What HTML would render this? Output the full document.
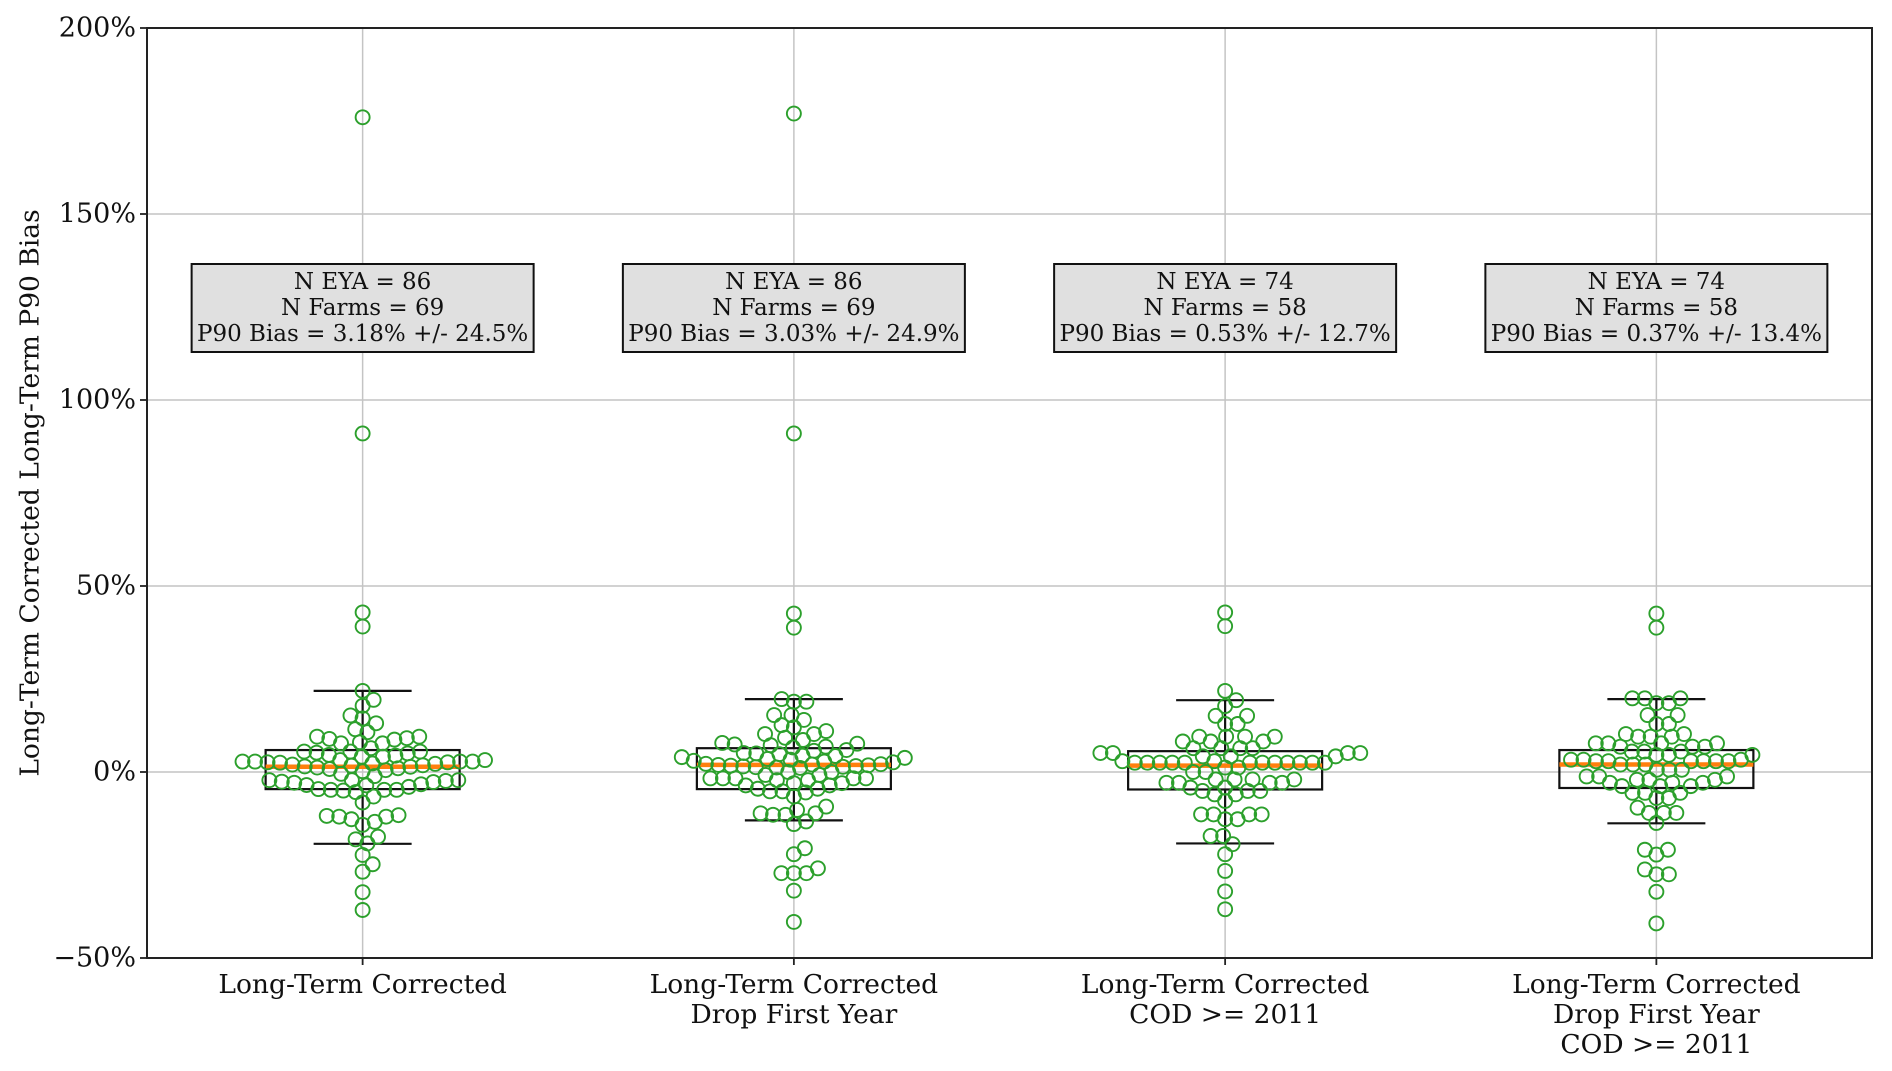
<!DOCTYPE html>
<html><head><meta charset="utf-8"><style>
html,body{margin:0;padding:0;background:#fff;}
svg{display:block;font-family:"DejaVu Serif","Liberation Serif",serif;}
</style></head><body>
<svg id="chart" width="1892" height="1071" viewBox="0 0 1892 1071" xmlns="http://www.w3.org/2000/svg">
<g id="grid"></g>
<g id="marks"></g>
<rect x="147" y="28" width="1725" height="930" fill="none" stroke="#222" stroke-width="2"/>
<g id="axes"></g>
<text x="30" y="493" transform="rotate(-90 30 493)" text-anchor="middle" dominant-baseline="central" font-size="26.5" fill="#111">Long-Term Corrected Long-Term P90 Bias</text>
</svg>
<script>
const categories = [["Long-Term Corrected"],["Long-Term Corrected","Drop First Year"],["Long-Term Corrected","COD >= 2011"],["Long-Term Corrected","Drop First Year","COD >= 2011"]];
const yTicks = [-50,0,50,100,150,200];
const yTickLabels = ["\u221250%","0%","50%","100%","150%","200%"];
const nEya = [86,86,74,74];
const nFarms = [69,69,58,58];
const biasMean = ["3.18%","3.03%","0.53%","0.37%"];
const biasStd = ["24.5%","24.9%","12.7%","13.4%"];
const q1 = [-4.6,-4.6,-4.7,-4.3];
const median = [1.4,1.9,1.7,2.0];
const q3 = [5.9,6.4,5.6,5.9];
const whiskerLo = [-19.3,-13.0,-19.2,-13.8];
const whiskerHi = [21.8,19.6,19.3,19.6];
const points1 = [176,91,42.9,39.1,21.8,19.4,17.8,15.2,14.4,13.1,11.5,10.7,9.5,9.5,9.1,8.9,8.7,8.0,7.7,7.7,6.4,5.5,5.5,5.5,5.2,4.6,4.1,3.2,2.8,2.8,2.6,2.5,2.2,1.7,1.4,1.0,0.5,0.8,1.2,1.5,1.8,2.0,2.3,2.6,2.8,2.8,3.2,4.1,4.4,5.0,-1.1,-2.2,-2.4,-2.7,-3.3,-3.6,-4.8,-5.0,-5.4,-4.8,-4.8,-4.6,-3.5,-2.9,-2.6,-2.2,-2.2,-6.6,-8.2,-11.6,-12.0,-12.7,-12.0,-11.8,-13.4,-14.2,-17.4,-18.1,-19.2,-22.3,-24.8,-26.8,-32.3,-37.1,-4.0,-0.5,0.2];
const points2 = [177,91,42.6,38.8,19.6,18.9,18.9,15.3,15.3,14,12.6,12,11,10.2,10.2,9.2,8.6,7.8,7.6,7.4,7.2,6.8,6.6,5.9,5.7,5.1,5.0,4.8,4.4,4.3,4.0,3.8,3.5,3.3,3.0,2.8,2.6,2.2,2.1,2.0,1.9,1.8,1.7,1.6,1.5,1.4,1.3,1.2,1.1,0,0,-0.8,-0.8,-1.7,-1.7,-1.7,-1.7,-1.7,-2.2,-2.2,-3.0,-3.0,-3.6,-3.6,-4.5,-4.5,-5.2,-5.2,-5.5,-6.6,-9.3,-10.2,-11.1,-11.1,-11.5,-11.5,-13.3,-14.0,-20.5,-22.1,-25.9,-27.2,-27.2,-27.2,-31.9,-40.3];
const points3 = [42.9,39.2,21.8,19.3,17.7,15.1,15.1,12.9,12.9,9.5,9.5,9.5,9.5,8.2,8.2,8.2,6.4,6.4,6.4,6.4,5.1,5.1,5.1,5.1,4.2,4.2,4.2,2.9,2.9,2.5,2.5,2.5,2.5,2.5,2.5,2.5,2.5,2.5,2.5,2.5,2.5,1.2,1.2,0,0,-2.0,-2.0,-2.0,-2.0,-2.9,-2.9,-2.9,-2.9,-4.2,-4.2,-5.1,-5.1,-5.1,-6.0,-6.0,-7.8,-11.4,-11.4,-11.4,-11.4,-12.7,-12.7,-17.2,-17.2,-19.4,-22.1,-26.6,-32.1,-36.9];
const points4 = [42.6,38.8,19.8,19.8,19.8,18.5,18.5,15.3,15.3,12.9,12.9,10.2,10.2,9.5,9.5,9.5,7.7,7.7,7.7,7.7,6.8,6.8,6.8,5.5,5.5,5.5,4.6,4.6,4.6,3.3,3.3,3.3,2.9,2.9,2.9,2.9,2.9,2.9,2.0,2.0,2.0,0.6,0.6,0.6,-1.2,-1.2,-1.2,-2.1,-2.1,-2.1,-2.9,-2.9,-2.9,-3.8,-3.8,-3.8,-5.6,-5.6,-5.6,-7.0,-7.0,-9.6,-11.0,-11.0,-11.0,-13.7,-20.9,-20.9,-22.2,-26.2,-27.5,-27.5,-32.2,-40.7];
const allPoints = [points1,points2,points3,points4];

const NS = "http://www.w3.org/2000/svg";
const L = 147, R = 1872, T = 28, B = 958;
const yMin = -50, yMax = 200;
function y(v){ return B - (v - yMin) / (yMax - yMin) * (B - T); }
function x(i){ return L + (i + 0.5) * (R - L) / categories.length; }
function mk(tag, attrs, parent){ const e = document.createElementNS(NS, tag); for (const k in attrs) e.setAttribute(k, attrs[k]); parent.appendChild(e); return e; }
const grid = document.getElementById('grid'), marks = document.getElementById('marks'), axes = document.getElementById('axes');

yTicks.forEach((t, i) => {
  const gl = mk('line', {x1:L, x2:R, y1:y(t), y2:y(t), stroke:'#c4c4c4', 'stroke-width':1.5}, grid);
  
  
  const tk = mk('line', {x1:L-7, x2:L, y1:y(t), y2:y(t), stroke:'#222', 'stroke-width':1.8}, axes);
  
  
  const tl = mk('text', {x:L-11, y:y(t), 'text-anchor':'end', 'dominant-baseline':'central', 'font-size':27, fill:'#111'}, axes);
  tl.textContent = yTickLabels[i];
  
  
});

const rad = 7, dia = 12.5;
function swarm(vals){
  const ord = vals.map((v, i) => ({v, py:y(v)})).sort((a, b) => a.v - b.v);
  const placed = [];
  ord.forEach(p => {
    const near = placed.filter(q => Math.abs(q.py - p.py) < dia);
    const cands = [0];
    near.forEach(q => { const dx = Math.sqrt(dia*dia - (q.py-p.py)*(q.py-p.py)); cands.push(q.dx + dx, q.dx - dx); });
    cands.sort((a, b) => Math.abs(a) - Math.abs(b));
    let best = 0;
    for (const c of cands){
      if (near.every(q => (q.dx-c)*(q.dx-c) + (q.py-p.py)*(q.py-p.py) >= dia*dia - 0.01)){ best = c; break; }
    }
    p.dx = best; placed.push(p);
  });
  return placed;
}

categories.forEach((cat, i) => {
  const cx = x(i);
  const vg = mk('line', {x1:cx, x2:cx, y1:T, y2:B, stroke:'#c4c4c4', 'stroke-width':1.5}, grid);
  
  
  const g = mk('g', {}, marks);
  
  
  const hw = 97, cw = 49;
  const w1 = mk('line', {x1:cx, x2:cx, y1:y(q3[i]), y2:y(whiskerHi[i]), stroke:'#111', 'stroke-width':2.2}, g);
  
  
  const w2 = mk('line', {x1:cx, x2:cx, y1:y(q1[i]), y2:y(whiskerLo[i]), stroke:'#111', 'stroke-width':2.2}, g);
  
  
  const c1 = mk('line', {x1:cx-cw, x2:cx+cw, y1:y(whiskerHi[i]), y2:y(whiskerHi[i]), stroke:'#111', 'stroke-width':2.2}, g);
  
  
  const c2 = mk('line', {x1:cx-cw, x2:cx+cw, y1:y(whiskerLo[i]), y2:y(whiskerLo[i]), stroke:'#111', 'stroke-width':2.2}, g);
  
  
  const bx = mk('rect', {x:cx-hw, y:y(q3[i]), width:2*hw, height:y(q1[i])-y(q3[i]), fill:'none', stroke:'#111', 'stroke-width':2.2}, g);
  
  
  const md = mk('line', {x1:cx-hw, x2:cx+hw, y1:y(median[i]), y2:y(median[i]), stroke:'#ff7f0e', 'stroke-width':4.5}, g);
  
  
  swarm(allPoints[i]).forEach(p => {
    const c = mk('circle', {cx:cx+p.dx, cy:p.py, r:rad, fill:'none', stroke:'#2ca02c', 'stroke-width':1.9}, g);
    
    
  });
  const tk = mk('line', {x1:cx, x2:cx, y1:B, y2:B+7, stroke:'#222', 'stroke-width':1.8}, axes);
  
  
  const xl = mk('text', {x:cx, 'text-anchor':'middle', 'font-size':26.5, fill:'#111'}, axes);
  
  
  cat.forEach((line, j) => { const ts = mk('tspan', {x:cx, y:993 + j*30}, xl); ts.textContent = line; });
  const ag = mk('g', {}, axes);
  
  
  mk('rect', {x:cx-171, y:264, width:342, height:88, fill:'#e0e0e0', stroke:'#111', 'stroke-width':2}, ag);
  const lines = ['N EYA = ' + nEya[i], 'N Farms = ' + nFarms[i], 'P90 Bias = ' + biasMean[i] + ' +/- ' + biasStd[i]];
  lines.forEach((s, j) => { const t = mk('text', {x:cx, y:289 + j*26, 'text-anchor':'middle', 'font-size':23, fill:'#111'}, ag); t.textContent = s; });
});
</script>
</body></html>
